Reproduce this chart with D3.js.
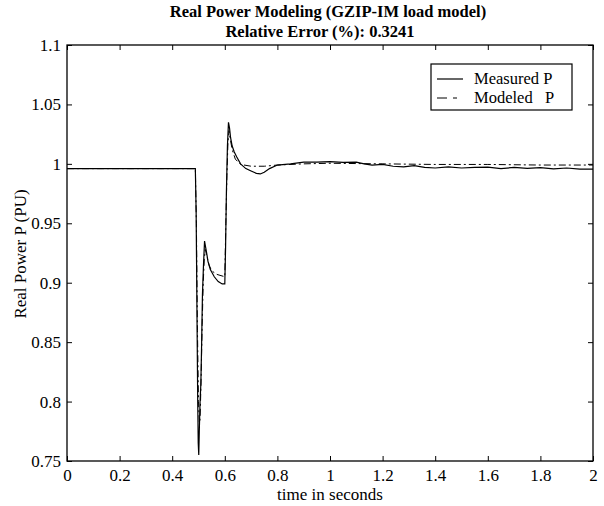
<!DOCTYPE html>
<html><head><meta charset="utf-8">
<script src="https://cdn.jsdelivr.net/npm/d3@7"></script>
<style>body{margin:0;background:#fff}svg{display:block}text{font-family:"Liberation Serif","Times New Roman",serif;fill:#000}</style>
</head><body><svg id="c" width="604" height="506"></svg>
<script>
const titleLines = ["Real Power Modeling (GZIP-IM load model)", "Relative Error (%): 0.3241"];
const xLabel = "time in seconds";
const yLabel = "Real Power P (PU)";
const xTicks = [0,0.2,0.4,0.6,0.8,1,1.2,1.4,1.6,1.8,2];
const yTicks = [0.75,0.8,0.85,0.9,0.95,1,1.05,1.1];
const seriesNames = ["Measured P", "Modeled   P"];

const measuredT = [0,0.1,0.2,0.3,0.4,0.488,0.491,0.494,0.497,0.499,0.501,0.503,0.506,0.509,0.512,0.515,0.519,0.523,0.527,0.531,0.536,0.545,0.56,0.575,0.59,0.6,0.603,0.606,0.61,0.614,0.618,0.622,0.628,0.636,0.645,0.66,0.68,0.70,0.72,0.735,0.75,0.77,0.80,0.85,0.90,0.95,1.0,1.05,1.1,1.13,1.16,1.2,1.24,1.28,1.32,1.36,1.4,1.45,1.5,1.55,1.6,1.65,1.7,1.75,1.8,1.85,1.9,1.95,2.0];
const measuredP = [0.996,0.996,0.996,0.996,0.996,0.996,0.96,0.88,0.8,0.765,0.755,0.775,0.80,0.815,0.85,0.89,0.915,0.935,0.93,0.925,0.918,0.911,0.905,0.901,0.899,0.899,0.93,0.975,1.015,1.035,1.03,1.022,1.015,1.01,1.006,1.0,0.996,0.994,0.992,0.9915,0.993,0.996,0.999,1.0,1.0015,1.0015,1.0018,1.0012,1.0015,1.0,0.999,0.9995,0.998,0.9975,0.9985,0.997,0.9965,0.9975,0.9965,0.997,0.9972,0.996,0.997,0.9962,0.9968,0.9958,0.9965,0.9955,0.9955];
const modeledT = [0,0.1,0.2,0.3,0.4,0.488,0.492,0.496,0.5,0.503,0.506,0.51,0.514,0.518,0.522,0.526,0.53,0.54,0.55,0.57,0.6,0.604,0.608,0.612,0.616,0.62,0.628,0.64,0.66,0.7,0.75,0.8,0.9,1.0,1.2,1.4,1.6,1.8,2.0];
const modeledP = [0.996,0.996,0.996,0.996,0.996,0.996,0.95,0.86,0.8,0.782,0.785,0.82,0.865,0.9,0.92,0.928,0.924,0.915,0.91,0.907,0.905,0.95,0.99,1.018,1.028,1.022,1.012,1.004,0.9995,0.998,0.998,0.999,1.0,1.0005,1.0,0.9995,0.9995,0.999,0.999];

const svg = d3.select("#c");
const m = {l:67, r:593, t:45, b:461};
const x = d3.scaleLinear().domain([0,2]).range([m.l,m.r]);
const y = d3.scaleLinear().domain([0.75,1.1]).range([m.b,m.t]);
const fs = 17;

const tl = 5;
svg.append("g").attr("transform",`translate(0,${m.b})`)
  .call(d3.axisBottom(x).tickValues(xTicks).tickSizeInner(-tl).tickSizeOuter(0).tickPadding(8).tickFormat(d=>String(d)))
  .call(g=>{g.select(".domain").remove();g.selectAll("text").attr("font-size",fs).attr("font-family","Liberation Serif");});
svg.append("g").attr("transform",`translate(0,${m.t})`)
  .call(d3.axisTop(x).tickValues(xTicks).tickSizeInner(-tl).tickSizeOuter(0).tickFormat(""))
  .call(g=>g.select(".domain").remove());
svg.append("g").attr("transform",`translate(${m.l},0)`)
  .call(d3.axisLeft(y).tickValues(yTicks).tickSizeInner(-tl).tickSizeOuter(0).tickPadding(6).tickFormat(d=>String(d)))
  .call(g=>{g.select(".domain").remove();g.selectAll("text").attr("font-size",fs).attr("font-family","Liberation Serif");});
svg.append("g").attr("transform",`translate(${m.r},0)`)
  .call(d3.axisRight(y).tickValues(yTicks).tickSizeInner(-tl).tickSizeOuter(0).tickFormat(""))
  .call(g=>g.select(".domain").remove());
svg.selectAll(".tick line").attr("stroke","#000").attr("stroke-width",1);
svg.append("rect").attr("x",m.l).attr("y",m.t).attr("width",m.r-m.l).attr("height",m.b-m.t)
  .attr("fill","none").attr("stroke","#000").attr("stroke-width",1.3);

const line = d3.line().x(d=>x(d[0])).y(d=>y(d[1]));
const measured = measuredT.map((t,i)=>[t,measuredP[i]]);
const modeled = modeledT.map((t,i)=>[t,modeledP[i]]);
svg.append("path").datum(modeled).attr("d",line).attr("fill","none").attr("stroke","#000").attr("stroke-width",1).attr("stroke-dasharray","7,3,2,3");
svg.append("path").datum(measured).attr("d",line).attr("fill","none").attr("stroke","#000").attr("stroke-width",1.2);

svg.append("text").attr("x",328).attr("y",17).attr("text-anchor","middle").attr("font-size",16.5).attr("font-weight","bold").text(titleLines[0]);
svg.append("text").attr("x",320).attr("y",37).attr("text-anchor","middle").attr("font-size",16.5).attr("font-weight","bold").text(titleLines[1]);
svg.append("text").attr("x",330).attr("y",500).attr("text-anchor","middle").attr("font-size",fs).text(xLabel);
svg.append("text").attr("transform","translate(26,254) rotate(-90)").attr("text-anchor","middle").attr("font-size",fs).text(yLabel);

const lg = svg.append("g");
lg.append("rect").attr("x",431).attr("y",64).attr("width",141).attr("height",46).attr("fill","#fff").attr("stroke","#000").attr("stroke-width",1.2);
lg.append("line").attr("x1",437).attr("x2",463).attr("y1",79).attr("y2",79).attr("stroke","#000").attr("stroke-width",1.2);
lg.append("line").attr("x1",437).attr("x2",463).attr("y1",98).attr("y2",98).attr("stroke","#000").attr("stroke-width",1).attr("stroke-dasharray","10,6,4,20");
lg.append("text").attr("x",474).attr("y",84).attr("font-size",16.5).attr("xml:space","preserve").style("white-space","pre").text(seriesNames[0]);
lg.append("text").attr("x",474).attr("y",103).attr("font-size",16.5).attr("xml:space","preserve").style("white-space","pre").text(seriesNames[1]);
</script></body></html>
